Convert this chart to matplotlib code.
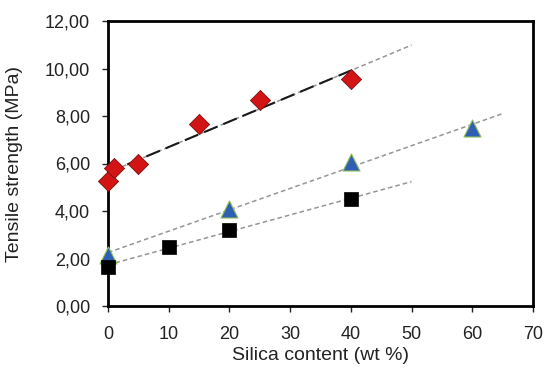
import numpy as np
import matplotlib
matplotlib.use("Agg")
import matplotlib.pyplot as plt
from matplotlib.ticker import FuncFormatter

plt.rcParams['font.family'] = ['Liberation Sans', 'DejaVu Sans']

# Data
x_diamond = [0, 1, 5, 15, 25, 40]
y_diamond = [5.26, 5.82, 6.00, 7.66, 8.67, 9.54]
x_triangle = [0, 20, 40, 60]
y_triangle = [2.15, 4.10, 6.05, 7.50]
x_square = [0, 10, 20, 40]
y_square = [1.66, 2.49, 3.20, 4.49]

# Trend line extents (x range)
trend_diamond_end = 50
trend_diamond_black_end = 40
trend_triangle_end = 65
trend_square_end = 50

xticks = [0, 10, 20, 30, 40, 50, 60, 70]
yticks = [0, 2, 4, 6, 8, 10, 12]

fig = plt.figure(figsize=(5.45, 3.72), dpi=100)
ax = fig.add_axes([108/545, 1 - 306/372, (533-108)/545, (306-21)/372])

def trend(xs, ys, x_end, **kw):
    k, b = np.polyfit(xs, ys, 1)
    xx = np.array([0, x_end])
    ax.plot(xx, k*xx + b, **kw)

gray = '#959595'
trend(x_diamond, y_diamond, trend_diamond_end, color=gray, lw=1.1, ls=(0, (3, 2)), zorder=2)
trend(x_diamond, y_diamond, trend_diamond_black_end, color='#1a1a1a', lw=1.5, ls=(0, (7, 3)), zorder=2.5)
trend(x_triangle, y_triangle, trend_triangle_end, color=gray, lw=1.1, ls=(0, (3, 2)), zorder=2)
trend(x_square, y_square, trend_square_end, color=gray, lw=1.1, ls=(0, (3, 2)), zorder=2)

ax.scatter(x_diamond, y_diamond, marker='D', s=105, c='#d21414', edgecolors='#7a1010', linewidths=0.6, zorder=3, clip_on=False)
ax.scatter(x_triangle, y_triangle, marker='^', s=150, c='#2e5fb4', edgecolors='#8fbf5a', linewidths=0.8, zorder=3, clip_on=False)
ax.scatter(x_square, y_square, marker='s', s=105, c='black', edgecolors='black', linewidths=0.5, zorder=3, clip_on=False)

ax.set_xlim(0, 70)
ax.set_ylim(0, 12)
ax.set_xticks(xticks)
ax.set_yticks(yticks)
ax.yaxis.set_major_formatter(FuncFormatter(lambda v, p: f"{v:.2f}".replace('.', ',')))
ax.tick_params(axis='both', direction='out', length=4.3, width=1, labelsize=13, colors='#222222')
ax.tick_params(axis='x', pad=10)
ax.tick_params(axis='y', pad=8.6)
for s in ax.spines.values():
    s.set_linewidth(2)
    s.set_color('black')

ax.set_xlabel('Silica content (wt %)', fontsize=14, color='#222222', va='center')
ax.set_ylabel('Tensile strength (MPa)', fontsize=14, color='#222222', va='center')
ax.xaxis.set_label_coords(0.5, (306-356)/285)
ax.yaxis.set_label_coords((15-108)/425, 0.5)

fig.savefig('out.png', dpi=100)
